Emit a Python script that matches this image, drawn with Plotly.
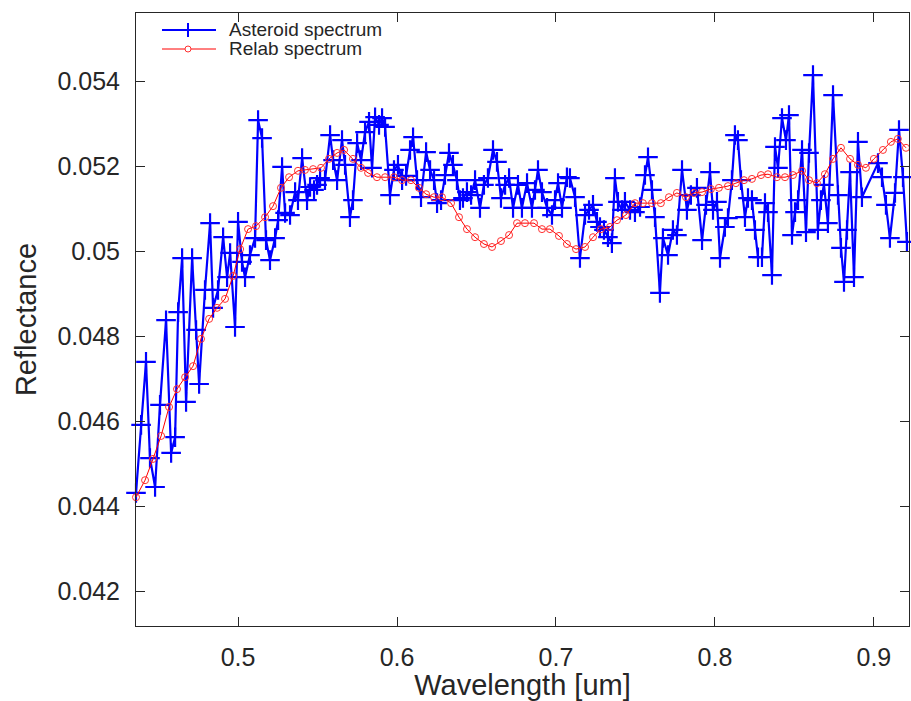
import plotly.graph_objects as go

# Asteroid spectrum (wavelength in um, reflectance)
ast_wl = [0.4358, 0.4390, 0.4421, 0.4446, 0.4478, 0.4509, 0.4547, 0.4579, 0.4604, 0.4623,
          0.4648, 0.4673, 0.4711, 0.4736, 0.4755, 0.4792, 0.4824, 0.4843, 0.4874, 0.4906,
          0.4931, 0.4950, 0.4981, 0.5000, 0.5025, 0.5044, 0.5075, 0.5107, 0.5126, 0.5151,
          0.5176, 0.5201, 0.5233, 0.5252, 0.5277, 0.5296, 0.5327, 0.5359, 0.5377, 0.5403,
          0.5434, 0.5453, 0.5478, 0.5497, 0.5516, 0.5547, 0.5579, 0.5598, 0.5623, 0.5654,
          0.5673, 0.5704, 0.5723, 0.5749, 0.5774, 0.5799, 0.5824, 0.5843, 0.5862, 0.5887,
          0.5906, 0.5925, 0.5956, 0.5981, 0.6006, 0.6032, 0.6057, 0.6082, 0.6101, 0.6126,
          0.6151, 0.6183, 0.6208, 0.6233, 0.6252, 0.6277, 0.6302, 0.6327, 0.6352, 0.6377,
          0.6396, 0.6415, 0.6440, 0.6466, 0.6491, 0.6522, 0.6547, 0.6572, 0.6604, 0.6629,
          0.6654, 0.6680, 0.6705, 0.6730, 0.6761, 0.6786, 0.6818, 0.6849, 0.6868, 0.6887,
          0.6912, 0.6944, 0.6975, 0.6994, 0.7013, 0.7038, 0.7069, 0.7088, 0.7120, 0.7151,
          0.7183, 0.7208, 0.7233, 0.7258, 0.7277, 0.7302, 0.7327, 0.7352, 0.7371, 0.7390,
          0.7415, 0.7434, 0.7466, 0.7497, 0.7529, 0.7560, 0.7579, 0.7604, 0.7623, 0.7654,
          0.7673, 0.7705, 0.7736, 0.7761, 0.7793, 0.7824, 0.7849, 0.7887, 0.7919, 0.7944,
          0.7969, 0.7988, 0.8013, 0.8032, 0.8063, 0.8082, 0.8107, 0.8126, 0.8145, 0.8164,
          0.8189, 0.8208, 0.8233, 0.8252, 0.8271, 0.8296, 0.8315, 0.8334, 0.8359, 0.8378,
          0.8397, 0.8422, 0.8447, 0.8466, 0.8485, 0.8504, 0.8523, 0.8548, 0.8573, 0.8592,
          0.8617, 0.8648, 0.8667, 0.8686, 0.8711, 0.8743, 0.8774, 0.8793, 0.8812, 0.8831,
          0.8850, 0.8875, 0.8900, 0.8925, 0.9026, 0.9051, 0.9076, 0.9101, 0.9133, 0.9158,
          0.9183, 0.9208]
ast_refl = [0.04432, 0.04592, 0.04740, 0.04514, 0.04446, 0.04639, 0.04838, 0.04526, 0.04563, 0.04857,
            0.04984, 0.04646, 0.04984, 0.04815, 0.04688, 0.04909, 0.05066, 0.04867, 0.04909, 0.05033,
            0.04939, 0.04996, 0.04822, 0.05069, 0.04975, 0.04939, 0.04991, 0.05031, 0.05308, 0.05266,
            0.05026, 0.04979, 0.05031, 0.05073, 0.05198, 0.05090, 0.05085, 0.05139, 0.05120, 0.05219,
            0.05120, 0.05151, 0.05144, 0.05156, 0.05172, 0.05167, 0.05273, 0.05214, 0.05167, 0.05261,
            0.05203, 0.05080, 0.05120, 0.05254, 0.05214, 0.05280, 0.05304, 0.05196, 0.05315, 0.05297,
            0.05313, 0.05292, 0.05132, 0.05191, 0.05203, 0.05167, 0.05177, 0.05238, 0.05268, 0.05167,
            0.05127, 0.05233, 0.05191, 0.05167, 0.05113, 0.05120, 0.05179, 0.05231, 0.05203, 0.05167,
            0.05120, 0.05125, 0.05139, 0.05132, 0.05167, 0.05102, 0.05156, 0.05172, 0.05238, 0.05210,
            0.05125, 0.05156, 0.05172, 0.05102, 0.05156, 0.05102, 0.05160, 0.05102, 0.05144, 0.05191,
            0.05139, 0.05102, 0.05085, 0.05120, 0.05160, 0.05102, 0.05174, 0.05172, 0.05127, 0.04984,
            0.05085, 0.05097, 0.05109, 0.05069, 0.05057, 0.05050, 0.05033, 0.05019, 0.05172, 0.05116,
            0.05097, 0.05116, 0.05097, 0.05092, 0.05104, 0.05179, 0.05221, 0.05144, 0.05080, 0.04902,
            0.05031, 0.04991, 0.05050, 0.05038, 0.05191, 0.05097, 0.05132, 0.05149, 0.05026, 0.05109,
            0.05186, 0.05097, 0.05116, 0.04984, 0.05057, 0.05078, 0.05167, 0.05273, 0.05261, 0.05167,
            0.05080, 0.05125, 0.05120, 0.05050, 0.04986, 0.04986, 0.05113, 0.05092, 0.04944, 0.05245,
            0.05196, 0.05313, 0.05261, 0.05320, 0.05038, 0.05092, 0.05120, 0.05238, 0.05045, 0.05231,
            0.05414, 0.05050, 0.05120, 0.05156, 0.05066, 0.05367, 0.05132, 0.05008, 0.04928, 0.05050,
            0.05186, 0.04939, 0.05257, 0.05127, 0.05207, 0.05174, 0.05109, 0.05031, 0.05137, 0.05285,
            0.05174, 0.05022]

# Relab spectrum
relab_wl = [0.4358, 0.4415, 0.4465, 0.4516, 0.4566, 0.4616, 0.4667, 0.4717, 0.4767, 0.4818,
            0.4868, 0.4918, 0.4969, 0.5013, 0.5063, 0.5113, 0.5170, 0.5220, 0.5270, 0.5321,
            0.5377, 0.5421, 0.5472, 0.5522, 0.5572, 0.5623, 0.5667, 0.5723, 0.5774, 0.5818,
            0.5874, 0.5925, 0.5981, 0.6032, 0.6088, 0.6138, 0.6183, 0.6233, 0.6283, 0.6340,
            0.6390, 0.6440, 0.6491, 0.6547, 0.6598, 0.6654, 0.6705, 0.6755, 0.6805, 0.6862,
            0.6912, 0.6962, 0.7019, 0.7069, 0.7126, 0.7183, 0.7233, 0.7283, 0.7340, 0.7384,
            0.7440, 0.7497, 0.7547, 0.7604, 0.7660, 0.7711, 0.7761, 0.7818, 0.7868, 0.7919,
            0.7975, 0.8025, 0.8082, 0.8132, 0.8183, 0.8233, 0.8290, 0.8334, 0.8390, 0.8441,
            0.8491, 0.8548, 0.8592, 0.8642, 0.8692, 0.8743, 0.8793, 0.8850, 0.8900, 0.8950,
            0.9000, 0.9057, 0.9107, 0.9151, 0.9202]
relab_refl = [0.04422, 0.04462, 0.04512, 0.04566, 0.04634, 0.04676, 0.04704, 0.04730, 0.04794, 0.04841,
              0.04867, 0.04888, 0.04942, 0.05005, 0.05052, 0.05059, 0.05080, 0.05106, 0.05149, 0.05174,
              0.05189, 0.05191, 0.05193, 0.05196, 0.05217, 0.05231, 0.05238, 0.05217, 0.05196, 0.05184,
              0.05174, 0.05174, 0.05174, 0.05167, 0.05167, 0.05149, 0.05134, 0.05127, 0.05127, 0.05113,
              0.05080, 0.05052, 0.05033, 0.05017, 0.05010, 0.05024, 0.05038, 0.05066, 0.05066, 0.05066,
              0.05052, 0.05052, 0.05036, 0.05017, 0.05005, 0.05010, 0.05033, 0.05052, 0.05057, 0.05073,
              0.05085, 0.05113, 0.05113, 0.05113, 0.05113, 0.05127, 0.05137, 0.05127, 0.05137, 0.05139,
              0.05146, 0.05149, 0.05153, 0.05160, 0.05167, 0.05170, 0.05179, 0.05181, 0.05174, 0.05174,
              0.05179, 0.05189, 0.05167, 0.05160, 0.05181, 0.05217, 0.05243, 0.05217, 0.05203, 0.05196,
              0.05217, 0.05238, 0.05257, 0.05264, 0.05243]

x_ticks = [0.5, 0.6, 0.7, 0.8, 0.9]
x_labels = ["0.5", "0.6", "0.7", "0.8", "0.9"]
y_ticks = [0.042, 0.044, 0.046, 0.048, 0.050, 0.052, 0.054]
y_labels = ["0.042", "0.044", "0.046", "0.048", "0.05", "0.052", "0.054"]
legend_names = ["Asteroid spectrum", "Relab spectrum"]

FONT = "Liberation Sans, Arial, sans-serif"
AX = "#262626"
BLUE = "#0000ff"
RED = "#ff0000"

# plot-area geometry (pixels) used only to place the hand-drawn legend
L, R, T, B = 136, 909, 13, 626
def px(xp):
    return (xp - L) / (R - L)
def py(yp):
    return (B - yp) / (B - T)

fig = go.Figure()
fig.add_trace(go.Scatter(
    x=ast_wl, y=ast_refl, mode="lines+markers", name=legend_names[0],
    line=dict(color=BLUE, width=2.2),
    marker=dict(symbol="cross-thin", size=14, line=dict(color=BLUE, width=2.2)),
    cliponaxis=False, showlegend=False,
))
fig.add_trace(go.Scatter(
    x=relab_wl, y=relab_refl, mode="lines+markers", name=legend_names[1],
    line=dict(color=RED, width=1),
    marker=dict(symbol="circle-open", size=7, color="#ff3030", line=dict(color="#ff3030", width=1)),
    cliponaxis=False, showlegend=False,
))

shapes = [
    # legend: asteroid line + cross
    dict(type="line", xref="paper", yref="paper", x0=px(162), x1=px(216), y0=py(30), y1=py(30),
         line=dict(color=BLUE, width=2)),
    dict(type="line", xref="paper", yref="paper", x0=px(188), x1=px(188), y0=py(23), y1=py(37),
         line=dict(color=BLUE, width=2)),
    # legend: relab line + circle
    dict(type="line", xref="paper", yref="paper", x0=px(162), x1=px(216), y0=py(49), y1=py(49),
         line=dict(color=RED, width=1)),
    dict(type="circle", xref="paper", yref="paper", x0=px(185), x1=px(191), y0=py(52), y1=py(46),
         line=dict(color="#ff3030", width=1), fillcolor="white"),
]
annotations = [
    dict(text=legend_names[0], xref="paper", yref="paper", x=px(227), y=py(30),
         xanchor="left", yanchor="middle", showarrow=False,
         font=dict(size=19, color=AX, family=FONT)),
    dict(text=legend_names[1], xref="paper", yref="paper", x=px(227), y=py(49),
         xanchor="left", yanchor="middle", showarrow=False,
         font=dict(size=19, color=AX, family=FONT)),
]

fig.update_layout(
    width=911, height=701,
    margin=dict(l=L, r=911 - R, t=T, b=701 - B),
    paper_bgcolor="white", plot_bgcolor="white",
    font=dict(family=FONT, color=AX),
    showlegend=False,
    shapes=shapes, annotations=annotations,
)
fig.update_xaxes(
    range=[0.4358, 0.9221], tickvals=x_ticks, ticktext=x_labels,
    ticks="inside", ticklen=9, tickcolor=AX, tickwidth=1,
    showline=True, linecolor=AX, linewidth=1, mirror="ticks",
    showgrid=False, zeroline=False,
    tickfont=dict(size=25, color=AX, family=FONT),
    ticklabelstandoff=9,
    title=dict(text="Wavelength [um]", font=dict(size=29, color=AX, family=FONT), standoff=8),
)
fig.update_yaxes(
    range=[0.041194, 0.055598], tickvals=y_ticks, ticktext=y_labels,
    ticks="inside", ticklen=9, tickcolor=AX, tickwidth=1,
    showline=True, linecolor=AX, linewidth=1, mirror="ticks",
    showgrid=False, zeroline=False,
    tickfont=dict(size=25, color=AX, family=FONT),
    ticklabelstandoff=10,
    title=dict(text="Reflectance", font=dict(size=29, color=AX, family=FONT), standoff=12),
)

fig.write_html("out.html")
